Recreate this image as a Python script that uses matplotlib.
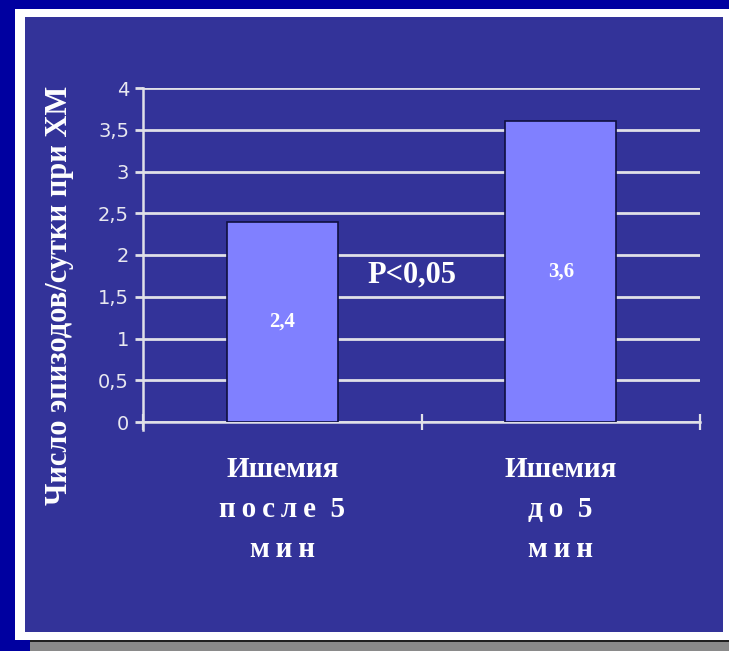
import matplotlib.pyplot as plt
from matplotlib.patches import Rectangle

# episodes per day at Holter monitoring, by ischemia duration
sp = "\u2009"
categories = ["Ишемия\n" + sp.join("после") + "  5\n" + sp.join("мин"),
              "Ишемия\n" + sp.join("до") + "  5\n" + sp.join("мин")]
values = [2.4, 3.6]
value_labels = ["2,4", "3,6"]
yticks = [0, 0.5, 1, 1.5, 2, 2.5, 3, 3.5, 4]
ytick_labels = ["0", "0,5", "1", "1,5", "2", "2,5", "3", "3,5", "4"]

W, H = 729, 651
fig = plt.figure(figsize=(W / 100, H / 100), dpi=100)
fig.patch.set_facecolor("#0000a0")

def px_rect(x0, y0, x1, y1, color):
    # rectangle given in pixel coords from the top-left corner
    fig.patches.append(Rectangle((x0 / W, 1 - y1 / H), (x1 - x0) / W, (y1 - y0) / H,
                                 transform=fig.transFigure, facecolor=color,
                                 edgecolor="none", zorder=-10))

px_rect(30, 639, W, H, "#202020")
px_rect(30, 642, W, H, "#8a8a8a")
px_rect(15, 9, W, 640, "#ffffff")
px_rect(25, 17, 723, 632, "#333399")

ax = fig.add_axes([143 / W, 1 - 422 / H, 557 / W, 334 / H])
ax.set_facecolor("none")

x = list(range(len(values)))
ax.bar(x, values, width=0.4, color="#8080ff", edgecolor="#101040", linewidth=1.2, zorder=3)
for xi, v, lab in zip(x, values, value_labels):
    ax.text(xi, v / 2, lab, ha="center", va="center", color="white",
            fontsize=15, fontweight="bold", family="Liberation Serif", zorder=4)

ax.text(0.465, 1.76, "P<0,05", ha="center", va="center", color="white",
        fontsize=22, fontweight="bold", family="Liberation Serif", zorder=4)

ax.set_xlim(-0.5, 1.5)
ax.set_ylim(0, 4)
ax.set_yticks(yticks)
ax.set_yticklabels(ytick_labels, color="#e8e8f0", fontsize=14, family="DejaVu Sans")
ax.yaxis.grid(True, color="#e0e0e8", linewidth=2, zorder=1)
ax.set_axisbelow(True)

ax.set_xticks([-0.5, 0.5, 1.5])
ax.set_xticklabels([])
ax.tick_params(axis="x", direction="inout", length=12, width=1.6, color="#e0e0e8")
ax.tick_params(axis="y", direction="out", length=6, width=2, color="#e0e0e8", pad=4)

for s in ["top", "right"]:
    ax.spines[s].set_visible(False)
for s in ["left", "bottom"]:
    ax.spines[s].set_color("#e0e0e8")
    ax.spines[s].set_linewidth(1.8)
ax.spines["left"].set_bounds(-0.1, 4)

for xi, lab in zip(x, categories):
    ax.text(xi, -0.41, lab, ha="center", va="top", color="white", fontsize=21,
            fontweight="bold", family="Liberation Serif", linespacing=1.62,
            transform=ax.transData, clip_on=False)

fig.text(60 / W, 1 - 295 / H, "Число эпизодов/сутки при ХМ", rotation=90,
         ha="center", va="center", color="white", fontsize=22, fontweight="bold",
         family="Liberation Serif")

fig.savefig("out.png", dpi=100, facecolor=fig.get_facecolor())
